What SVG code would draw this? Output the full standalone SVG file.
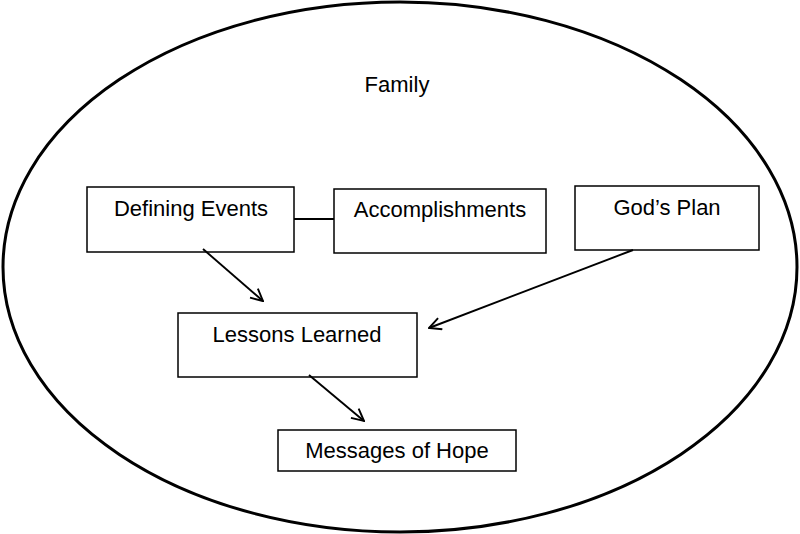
<svg xmlns="http://www.w3.org/2000/svg" width="800" height="534" viewBox="0 0 800 534">
<style>
.box{fill:#fff;stroke:#000;stroke-width:1.5}
.lbl{font-family:"Liberation Sans",Arial,sans-serif;font-size:22px;fill:#000;text-anchor:middle}
.con{stroke:#000;stroke-width:1.9;fill:none}
</style>
<defs>
<marker id="arr" viewBox="0 0 14 14" refX="13" refY="7" markerWidth="14" markerHeight="14" markerUnits="userSpaceOnUse" orient="auto">
<path d="M1,1 L13,7 L1,13" fill="none" stroke="#000" stroke-width="1.9"/>
</marker>
</defs>
<rect width="800" height="534" fill="#fff"/>
<g id="family">
<ellipse cx="400" cy="267" rx="397" ry="265" fill="none" stroke="#000" stroke-width="3"/>
<text class="lbl" x="397" y="92">Family</text>
</g>
<g id="defining-events">
<rect class="box" x="87" y="187" width="207" height="65"/>
<text class="lbl" x="191" y="216">Defining Events</text>
</g>
<g id="accomplishments">
<rect class="box" x="334" y="189" width="212" height="64"/>
<text class="lbl" x="440" y="217">Accomplishments</text>
</g>
<g id="gods-plan">
<rect class="box" x="575" y="186" width="184" height="64"/>
<text class="lbl" x="667" y="215">God’s Plan</text>
</g>
<g id="lessons-learned">
<rect class="box" x="178" y="313" width="239" height="64"/>
<text class="lbl" x="297" y="342">Lessons Learned</text>
</g>
<g id="messages-of-hope">
<rect class="box" x="278" y="430" width="238" height="41"/>
<text class="lbl" x="397" y="458">Messages of Hope</text>
</g>
<g id="connectors">
<line class="con" x1="294" y1="219" x2="334" y2="219"/>
<line class="con" x1="203" y1="249" x2="263" y2="301" marker-end="url(#arr)"/>
<line class="con" x1="633" y1="250" x2="429" y2="328" marker-end="url(#arr)"/>
<line class="con" x1="309" y1="375" x2="364" y2="421" marker-end="url(#arr)"/>
</g>
</svg>
